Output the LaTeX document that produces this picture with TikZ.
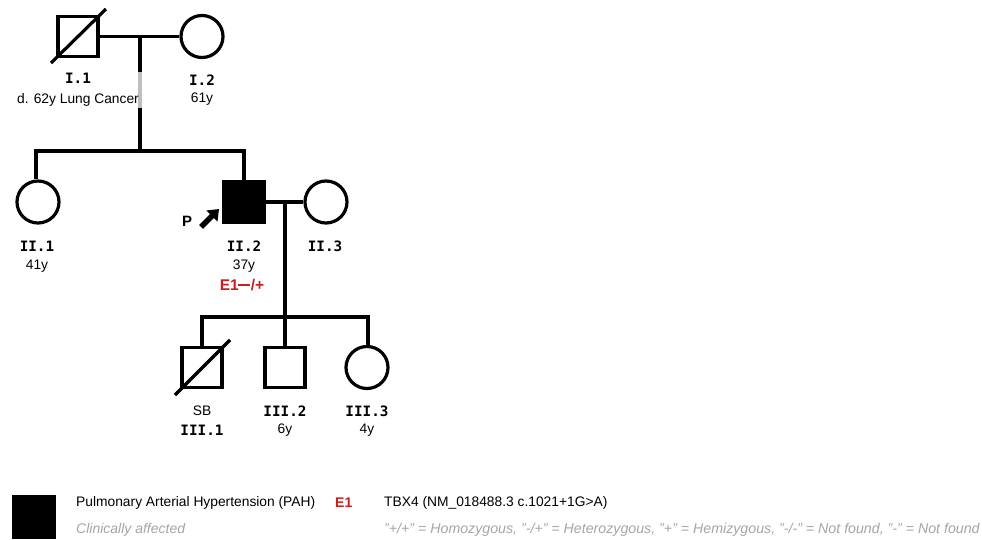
\documentclass[tikz,border=0pt]{standalone}
\usepackage{fontspec}
\setmainfont{Liberation Sans}
\newfontfamily\idfont{DejaVu Sans Mono}
\usetikzlibrary{arrows.meta}
\definecolor{redE}{RGB}{200,30,30}
\definecolor{grayT}{RGB}{165,165,165}
\newcommand{\qq}{\char34\relax}
\begin{document}
\begin{tikzpicture}[x=1pt,y=-1pt,
  line/.style={line width=3.2pt},
  male/.style={draw,line width=3.2pt,minimum size=40pt,inner sep=0pt,rectangle},
  female/.style={draw,line width=3.2pt,minimum size=42pt,inner sep=0pt,circle},
  lab/.style={font=\fontsize{13.8}{20}\selectfont,align=center,inner sep=1pt},
  idlab/.style={font=\fontsize{14.3}{16}\idfont\bfseries},
  agelab/.style={font=\fontsize{13.8}{16}\selectfont}
]
\useasboundingbox (0,0) rectangle (982,540);
% generation I
\node[male] (i1) at (78,36.5) {};
\node[female] (i2) at (202,36.5) {};
\coordinate (m1) at (140,36.5);
\coordinate (s1) at (140,151);
\coordinate (s1l) at (36,151);
\coordinate (s1r) at (244,151);
\draw[line] (i1.east) -- (i2.west);
\draw[line] (m1) -- (s1);
\draw[line,line cap=rect] (s1l) -- (s1r);
\draw[line] (51,63) -- (106,9);
% generation II
\node[female] (ii1) at (38,202) {};
\node[male,fill=black] (ii2) at (244,202) {};
\node[female] (ii3) at (326,202) {};
\draw[line] (s1l) -- (s1l |- ii1.north);
\draw[line] (s1r) -- (ii2.north);
\coordinate (m2) at (285,202);
\coordinate (s2) at (285,317);
\coordinate (s2l) at (202,317);
\coordinate (s2r) at (368,317);
\draw[line] (ii2.east) -- (ii3.west);
\draw[line] (m2) -- (s2);
\draw[line,line cap=rect] (s2l) -- (s2r);
% generation III
\node[male] (iii1) at (202,367.5) {};
\node[male] (iii2) at (285,367.5) {};
\node[female] (iii3) at (367,367.5) {};
\draw[line] (s2l) -- (iii1.north);
\draw[line] (s2) -- (iii2.north);
\draw[line] (s2r) -- (s2r |- iii3.north);
\draw[line] (175,395) -- (230,340);
% labels
\node[lab,fill=white,fill opacity=0.75,text opacity=1,inner xsep=3pt] (l11) at (78,90) {{\idfont\bfseries\fontsize{14.3}{16}\selectfont I.1}\\d. 62y Lung Cancer};
\node[idlab] (l12) at (202,80) {I.2};
\node[agelab] (a12) at (202,99) {61y};
\node[idlab] (l21) at (37,246) {II.1};
\node[agelab] (a21) at (37,266) {41y};
\node[idlab] (l22) at (244,246) {II.2};
\node[agelab] (a22) at (244,266) {37y};
\node[font=\fontsize{15.5}{16}\selectfont\bfseries,text=redE,fill=white,fill opacity=0.75,text opacity=1,inner sep=2pt] (g22) at (242,285) {E1\kern-0.5pt\rule[4.2pt]{12pt}{2pt}\kern0.5pt/+};
\node[idlab] (l23) at (325,246) {II.3};
\node[agelab] (a31) at (202,411) {SB};
\node[idlab] (l31) at (202,430) {III.1};
\node[idlab] (l32) at (285,411) {III.2};
\node[agelab] (a32) at (285,430) {6y};
\node[idlab] (l33) at (367,411) {III.3};
\node[agelab] (a33) at (367,430) {4y};
% proband
\node[font=\fontsize{15}{16}\selectfont\bfseries] (p) at (187,221) {P};
\coordinate (pa) at (201,227);
\coordinate (pb) at (219,209);
\draw[line width=5.5pt,-{Triangle[length=10pt,width=15pt]}] (pa) -- (pb);
% legend
\node[draw=black,fill=black,minimum size=43pt,inner sep=0pt] (leg) at (34,516.5) {};
\node[agelab,anchor=west,inner sep=0pt] (lt1) at (76,503) {Pulmonary Arterial Hypertension (PAH)};
\node[anchor=west,inner sep=0pt,text=grayT,font=\fontsize{14}{16}\selectfont\itshape] (lt2) at (76,530) {Clinically affected};
\node[anchor=west,inner sep=0pt,text=redE,font=\fontsize{14}{16}\selectfont\bfseries] (le1) at (335,503) {E1};
\node[agelab,anchor=west,inner sep=0pt] (lt3) at (384,503) {TBX4 (NM\_018488.3 c.1021+1G>A)};
\node[anchor=west,inner sep=0pt,text=grayT,font=\fontsize{14.2}{16}\selectfont\itshape] (lt4) at (384,530) {\qq+/+\qq{} = Homozygous, \qq-/+\qq{} = Heterozygous, \qq+\qq{} = Hemizygous, \qq-/-\qq{} = Not found, \qq-\qq{} = Not found};
\end{tikzpicture}
\end{document}
